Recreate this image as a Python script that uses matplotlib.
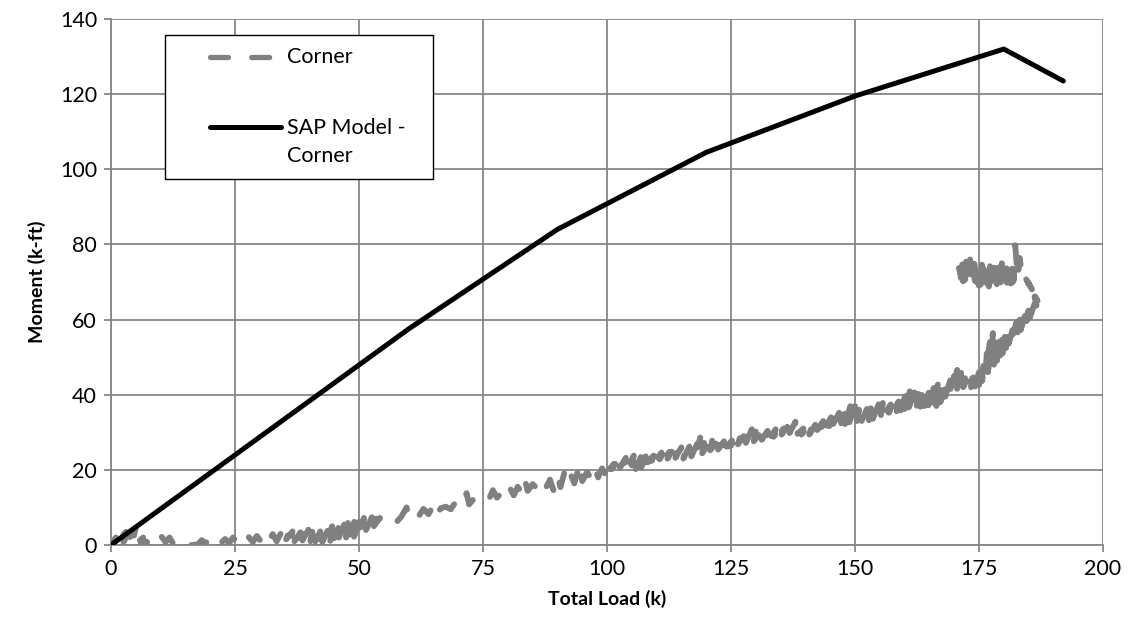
import matplotlib.pyplot as plt
from matplotlib.lines import Line2D
from matplotlib.patches import Rectangle

# SAP model prediction for the corner location
sap_load = [0, 60, 90, 120, 150, 180, 192]
sap_moment = [0, 57.5, 84, 104.5, 119.5, 132, 123.5]

# Measured corner response, (total load k, moment k-ft), in recording order.
# Loading up to ~50 k: moment stays near zero
corner_start = [
    (0, 0), (1, 2), (0.5, 0.5), (2, 3), (1.5, 1), (3, 3.5), (2.5, 0.8),
    (4, 4), (3.5, 1.5), (5, 4.5), (4.5, 2), (5.8, 3), (5.2, 0.5), (6.5, 2),
    (6, 0.3), (7, 1),
    (7.8, 0.3), (8.6, 1.8), (9.4, 0.6), (10.2, 2.2), (11, 0.8), (11.8, 2),
    (12.5, 0.4), (13.3, 1.5), (14, 0.2), (15, 0), (16.5, 0), (17.5, 0.2),
    (18.3, 1.3), (19, 0.4), (19.8, 1.5), (20.6, 0.5), (21.4, 1.8), (22.2, 0.6),
    (23, 1.6), (23.8, 0.5), (24.6, 2), (25.4, 0.7), (26.2, 1.7), (27, 0.4),
    (27.8, 2.1), (28.6, 0.8), (29.4, 2.4), (30.2, 1), (31, 2.6), (31.8, 0.8),
    (32.6, 2.9), (33.4, 1), (34.2, 3), (35, 0.6),
    (35.8, 3.2), (35.3, 1.5), (36.6, 3.6), (36.1, 0.5), (37.4, 2.8), (37, 1),
    (38.2, 3.4), (37.8, 0.4), (39, 3.8), (38.6, 1.2), (39.8, 4.1), (39.4, 0.6),
    (40.6, 3.5), (40.2, 1), (41.4, 4.3), (41, 0.5), (42.2, 3.6), (41.8, 1.3),
    (43, 4.6), (42.6, 0.8), (43.8, 4.2), (43.4, 1.4), (44.6, 5), (44.2, 1),
    (45.4, 5.3), (45, 1.8), (46.2, 5.8), (45.8, 1.5), (47, 5.4), (46.6, 2.4),
    (47.8, 6.2), (47.4, 2), (48.6, 6.6), (48.2, 2.8), (49.4, 7.6), (49, 2.2),
    (50.2, 6.8), (49.8, 3), (51, 7.2), (50.6, 3.6), (51.8, 6.5), (51.4, 4),
    (52.6, 7.4), (52.2, 4.2), (53.4, 7), (53, 5), (54.2, 7.2),
]

# Roughly linear rise from 55 k to 150 k
corner_rise = [
    (55.5, 5.5), (56.5, 6.8), (57.5, 6), (58.5, 7.5), (59.6, 10), (60, 7),
    (61, 8.2), (62, 7.6), (63, 9.6), (64, 8.2), (65, 10.5), (65.5, 7.8),
    (66.5, 9.8), (67.5, 10.2), (68.5, 9.5), (69.5, 11.5), (70.5, 10.2),
    (71.7, 13.8), (72.2, 10.8), (73.2, 12.4), (74.2, 11.6), (75.2, 13),
    (76.2, 12.2), (77, 14.6), (77.8, 12.6), (78.8, 14), (79.6, 12.4),
    (80.5, 15), (81.2, 13.2), (82, 15.5), (82.8, 14), (83.4, 17.6), (84, 14.4),
    (85, 16.2), (86, 15), (87, 17), (87.6, 15), (88.5, 17.4), (89.2, 14.6),
    (90, 18.6), (90.6, 15.4), (91.4, 19.2), (92, 16), (92.8, 18.4), (93.4, 16.4),
    (94.6, 21.8), (95, 17), (96, 19.4), (96.8, 17.6), (97.6, 20.6), (98.2, 18),
    (99, 20.4), (99.6, 19), (100.6, 22),
    (100.2, 19.8), (101.4, 21.6), (101, 20.2), (102.2, 22.5), (101.8, 20.4),
    (103, 21.8), (102.6, 20.6), (103.8, 23.2), (103.4, 21), (104.6, 22.4),
    (104.2, 20.6), (105.4, 23.8), (105, 21.2), (106.2, 24.4), (105.8, 20.2),
    (107, 24), (106.6, 19.6), (107.8, 23.6), (107.4, 21.4), (108.6, 24.8),
    (108.2, 22), (109.4, 23.8), (109, 22.4), (110.2, 25), (109.8, 22.6),
    (111, 24.6), (110.6, 22.8), (111.8, 25.4), (111.4, 22.6), (112.6, 24.8),
    (112.2, 23), (113.4, 25.6), (113, 23.4), (114.2, 25.2), (113.8, 23.2),
    (115, 26), (114.6, 23.6), (115.8, 25.4), (115.4, 23), (116.6, 26.2),
    (116.2, 23.2), (117.4, 25.6), (117, 23.6), (118.2, 27), (117.8, 23.4),
    (118.8, 28.6), (118.6, 24), (119.6, 27.4), (119.2, 24.4), (120.4, 27),
    (120, 25), (121.2, 27.8), (120.8, 25.2), (122, 27.2), (121.6, 25.6),
    (122.8, 28), (122.4, 25.4), (123.6, 27.6), (123.2, 25.8), (124.4, 28.2),
    (124, 26), (125.2, 27.8), (124.8, 26.2), (126, 28.4), (125.6, 26.6),
    (126.8, 28.6), (126.4, 26.8), (127.6, 29), (127.2, 27), (128.4, 29.6),
    (128, 27.2), (129.2, 30.8), (128.8, 27.4), (130, 30.2), (129.6, 27.6),
    (130.8, 29.6), (130.4, 27.8), (131.6, 30), (131.2, 28), (132.4, 30.4),
    (132, 28.2), (133.2, 30.2), (132.8, 28.4), (134, 30.8), (133.6, 28.8),
    (134.8, 31.2), (134.4, 29), (135.6, 31), (135.2, 29.4), (136.4, 31.6),
    (136, 29.6), (137.2, 32), (136.8, 29.8), (138, 32.8), (137.6, 30),
    (138.8, 31.4), (138.4, 29.6), (139.6, 31), (139.2, 29.4), (140.4, 31.2),
    (140, 29.6), (141.2, 31.4), (140.8, 29.4), (142, 32), (141.6, 30),
    (142.8, 32.6), (142.4, 30.6), (143.6, 33), (143.2, 31), (144.4, 33.4),
    (144, 31.2), (145.2, 34), (144.8, 31.6), (146, 34.8), (145.6, 32.2),
    (146.8, 35.2), (146.4, 32.6), (147.6, 36), (147.2, 32.4), (148.4, 36.6),
    (148, 32.2), (149.2, 37.6), (148.8, 32.4), (150, 37), (149.6, 32.6),
]

# Stiffening up to the peak load, then the hook back
corner_peak = [
    (150.8, 36), (150.4, 33), (151.6, 35.6), (151.2, 32.6), (152.4, 36.2),
    (152, 32.2), (153.2, 36.4), (152.8, 33.2), (154, 37.2), (153.6, 33.6),
    (154.8, 37.6), (154.4, 34), (155.6, 37.8), (155.2, 34.4), (156.4, 37),
    (156, 35), (157.2, 37.4), (156.8, 35.2), (158, 37.8), (157.6, 35.4),
    (158.8, 38.2), (158.4, 35.6), (159.6, 39.4), (159.2, 35.8), (160.4, 41),
    (160, 36.2), (161.2, 41.6), (160.8, 36.4), (162, 40.6), (161.6, 36.2),
    (162.8, 40.2), (162.4, 36.6), (163.6, 41), (163.2, 36.8), (164.4, 41.4),
    (164, 37), (165.2, 42), (164.8, 37.2), (166, 42.4), (165.6, 37.4),
    (166.8, 43.2), (166.4, 37), (167.6, 43.4), (167.2, 38), (168.4, 42.6),
    (168, 38.6), (169.2, 43.8), (168.8, 39.4), (170, 45), (169.6, 40),
    (170.6, 46.6), (170.4, 40.6), (171.4, 45.8), (171, 41.2), (172.2, 44.4),
    (171.8, 42), (173, 45), (172.6, 42.4), (173.8, 44.6), (173.4, 42),
    (174.6, 46), (174.2, 42.2), (175.4, 48), (175, 42.6), (176, 50),
    (175.6, 43.6), (176.6, 51), (176.2, 45), (177.2, 54), (176.8, 46),
    (177.8, 56.4), (177.4, 47.4), (178.4, 55.6), (178, 48), (179, 55),
    (178.6, 48.4), (179.6, 54.6), (179.2, 49.6), (180.2, 55.4), (179.8, 51),
    (180.8, 56.2), (180.4, 52.4),
    (181.4, 57.6), (181, 53.6), (182, 58.6), (181.6, 55), (182.6, 59.4),
    (182.2, 55.8), (183.2, 60), (182.8, 56.6), (183.8, 61), (183.4, 57.2),
    (184.4, 61.6), (184, 58.4), (185, 62.4), (184.6, 59.6), (185.6, 63.6),
    (185.2, 60.4), (186.2, 64.2), (185.8, 61), (186.6, 63.8), (186.2, 66),
    (186.8, 65), (185.8, 67.4), (186.4, 66.6), (185.4, 68.6), (185.8, 67.8),
    (184.8, 70), (185.2, 69.2), (184.2, 71.4), (184.6, 70.6), (183.6, 72.6),
]

# Unloading plateau around 70-76 k-ft
corner_end = [
    (183.2, 76.4), (182.8, 71), (182.3, 79.8), (182, 70.4), (181.6, 76),
    (181.8, 70), (181.2, 75.2), (181.4, 69.6), (180.8, 74.6), (181, 70.2),
    (180.4, 75.4), (180.6, 69.8), (180, 74.2), (180.2, 70.4), (179.6, 75),
    (179.8, 70), (179.2, 74), (179.4, 69.6), (178.8, 74.6), (179, 70.2),
    (178.4, 73.8), (178.6, 69.4), (178, 74.4), (178.2, 70), (177.6, 73.6),
    (177.8, 69.2), (177.2, 74.2), (177.4, 69.8), (176.8, 73.2), (177, 68.8),
    (176.4, 74), (176.6, 69.6), (176, 73.4), (176.2, 69.8), (175.6, 74.6),
    (175.8, 70), (175.2, 73.6), (175.4, 69.4), (174.8, 74.2), (175, 69),
    (174.4, 73.8), (174.6, 69.6), (174, 75.6), (174.2, 70.2), (173.6, 74.4),
    (173.8, 69.8), (173.2, 76), (173.4, 70.4), (172.8, 74.6), (173, 70),
    (172.4, 75.4), (172.6, 69.8), (172, 74.6), (172.2, 70.6), (171.6, 75.8),
    (171.8, 70.2), (171.2, 75), (171.4, 71), (170.8, 74.6), (171, 72),
]

corner = corner_start + corner_rise + corner_peak + corner_end
corner_load = [p[0] for p in corner]
corner_moment = [p[1] for p in corner]

GRID = "#878787"
GRAY = "#808080"
DASH = (0, (3.2, 4.0))
LW_TEST = 4.2
LW_SAP = 3.6

plt.rcParams["font.family"] = ["Lato", "DejaVu Sans"]

fig = plt.figure(figsize=(11.37, 6.37), dpi=100)
ax = fig.add_axes([111 / 1137, 1 - 545 / 637, 992 / 1137, 526 / 637])

ax.plot(corner_load, corner_moment, color=GRAY, linewidth=LW_TEST,
        linestyle=DASH, dash_capstyle="round", dash_joinstyle="round",
        zorder=3)
ax.plot(sap_load, sap_moment, color="black", linewidth=LW_SAP,
        solid_joinstyle="round", solid_capstyle="round", zorder=4)

ax.set_xlim(0, 200)
ax.set_ylim(0, 140)
ax.set_xticks(range(0, 201, 25))
ax.set_yticks(range(0, 141, 20))
ax.grid(True, color=GRID, linewidth=1.3)
ax.set_axisbelow(True)
for side in ("top", "right"):
    ax.spines[side].set_visible(False)
for side in ("left", "bottom"):
    ax.spines[side].set_color(GRID)
    ax.spines[side].set_linewidth(1.3)
ax.tick_params(direction="out", length=5, width=1.3, color=GRID,
               labelsize=15.5, labelcolor="black", pad=5)

ax.set_xlabel("Total Load (k)", fontsize=14, fontweight="bold", labelpad=8)
ax.set_ylabel("Moment (k-ft)", fontsize=14, fontweight="bold", labelpad=10)


# Legend box drawn in axes fractions from pixel positions on the canvas
def ax_frac(px, py):
    return (px - 111) / 992, (545 - py) / 526


x0, y0 = ax_frac(165, 179)
x1, y1 = ax_frac(433, 35)
ax.add_patch(Rectangle((x0, y0), x1 - x0, y1 - y0, transform=ax.transAxes,
                       facecolor="white", edgecolor="black", linewidth=1.0,
                       zorder=6))
hx0, hy1 = ax_frac(210, 57)
hx1, hy2 = ax_frac(281, 127)
ax.add_line(Line2D([hx0, hx1], [hy1, hy1], transform=ax.transAxes,
                   color=GRAY, linewidth=3.8, linestyle=(0, (3.4, 4.4)),
                   dash_capstyle="round", zorder=7))
ax.add_line(Line2D([hx0, hx1], [hy2, hy2], transform=ax.transAxes,
                   color="black", linewidth=LW_SAP, solid_capstyle="round",
                   zorder=7))
tx, _ = ax_frac(287, 0)
_, ty2 = ax_frac(0, 142)
ax.text(tx, hy1, "Corner", transform=ax.transAxes, fontsize=15.5,
        va="center", ha="left", zorder=7)
ax.text(tx, ty2, "SAP Model -\nCorner", transform=ax.transAxes, fontsize=15.5,
        va="center", ha="left", linespacing=1.5, zorder=7)

fig.savefig("out.png", dpi=100)
